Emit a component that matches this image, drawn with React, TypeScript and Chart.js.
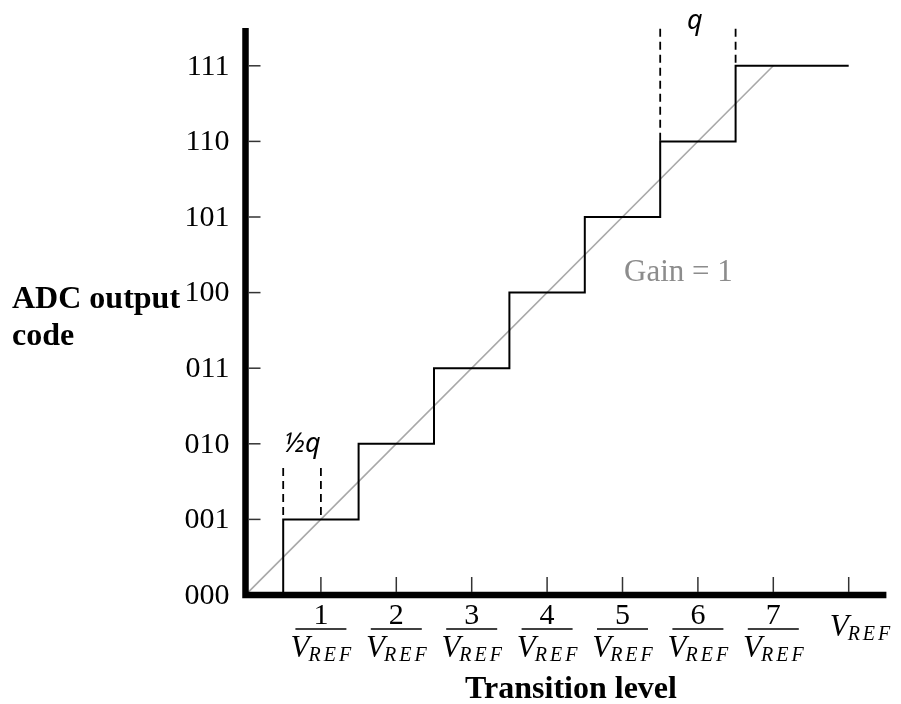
import React, { useEffect, useRef } from "react";
import { Chart, registerables } from "chart.js";

Chart.register(...registerables);

// ---- data ----
const transitionLevels = [0.5, 1.5, 2.5, 3.5, 4.5, 5.5, 6.5, 8];
const outputCodes = [0, 1, 2, 3, 4, 5, 6, 7];
const codeLabels = ["000", "001", "010", "011", "100", "101", "110", "111"];
const gainX = [0, 7];
const gainY = [0, 7];
const xTickValues = [1, 2, 3, 4, 5, 6, 7, 8];
const xTickNumerators = ["1", "2", "3", "4", "5", "6", "7", ""];
const halfQMarkersX = [0.5, 1];
const halfQBottom = [1, 1];
const halfQTop = 1.68;
const qMarkersX = [5.5, 6.5];
const qBottom = [6, 7];
const qTop = 7.49;

const SERIF = '"Liberation Serif", "Times New Roman", serif';

const overlayPlugin = {
  id: "overlay",
  afterDraw(chart: any) {
    const ctx = chart.ctx;
    const xs = chart.scales.x;
    const ys = chart.scales.y;
    const px = (v: number) => xs.getPixelForValue(v);
    const py = (v: number) => ys.getPixelForValue(v);
    ctx.save();

    // axes (thick L)
    ctx.strokeStyle = "#000";
    ctx.lineWidth = 6.5;
    ctx.lineJoin = "miter";
    ctx.lineCap = "butt";
    ctx.beginPath();
    ctx.moveTo(px(0), py(7.5));
    ctx.lineTo(px(0), py(0));
    ctx.lineTo(px(8.5), py(0));
    ctx.stroke();

    // y ticks (inward)
    ctx.strokeStyle = "#333";
    ctx.lineWidth = 1.5;
    outputCodes.forEach((c) => {
      if (c === 0) return;
      ctx.beginPath();
      ctx.moveTo(px(0) + 3, py(c));
      ctx.lineTo(px(0) + 15, py(c));
      ctx.stroke();
    });
    // x ticks (upward)
    xTickValues.forEach((v) => {
      ctx.beginPath();
      ctx.moveTo(px(v), py(0) - 3);
      ctx.lineTo(px(v), py(0) - 18);
      ctx.stroke();
    });

    // y labels
    ctx.fillStyle = "#000";
    ctx.font = `30px ${SERIF}`;
    ctx.textAlign = "right";
    ctx.textBaseline = "middle";
    codeLabels.forEach((l, i) => {
      ctx.fillText(l, px(0) - 16, py(outputCodes[i]) + 1);
    });

    // x labels (fractions)
    const drawVref = (cx: number, base: number, align: string) => {
      ctx.letterSpacing = "0px";
      ctx.font = `italic 31px ${SERIF}`;
      const wV = ctx.measureText("V").width;
      ctx.font = `italic 20px ${SERIF}`;
      ctx.letterSpacing = "3px";
      const wR = ctx.measureText("REF").width;
      const total = wV + wR - 4;
      const left = align === "center" ? cx - total / 2 : cx;
      ctx.textAlign = "left";
      ctx.textBaseline = "alphabetic";
      ctx.letterSpacing = "0px";
      ctx.font = `italic 31px ${SERIF}`;
      ctx.fillText("V", left, base);
      ctx.font = `italic 20px ${SERIF}`;
      ctx.letterSpacing = "3px";
      ctx.fillText("REF", left + wV - 1, base + 4);
      ctx.letterSpacing = "0px";
    };
    xTickValues.forEach((v, i) => {
      const x = px(v);
      const num = xTickNumerators[i];
      if (num) {
        ctx.font = `30px ${SERIF}`;
        ctx.textAlign = "center";
        ctx.textBaseline = "alphabetic";
        ctx.fillText(num, x, 624);
        ctx.strokeStyle = "#000";
        ctx.lineWidth = 1.3;
        ctx.beginPath();
        ctx.moveTo(x - 25.5, 629);
        ctx.lineTo(x + 25.5, 629);
        ctx.stroke();
        drawVref(x, 657, "center");
      } else {
        drawVref(x - 19, 636, "left");
      }
    });

    // axis titles
    ctx.font = `bold 32px ${SERIF}`;
    ctx.textAlign = "left";
    ctx.textBaseline = "middle";
    ctx.fillText("ADC output", 12, 300);
    ctx.fillText("code", 12, 337);
    ctx.textAlign = "center";
    ctx.fillText("Transition level", 571, 690);

    // gain annotation
    ctx.fillStyle = "#8c8c8c";
    ctx.font = `31px ${SERIF}`;
    ctx.textAlign = "left";
    ctx.fillText("Gain = 1", 624, 273);

    // q labels
    ctx.fillStyle = "#000";
    ctx.font = `italic 27px "Noto Sans", sans-serif`;
    ctx.textAlign = "center";
    ctx.textBaseline = "alphabetic";
    ctx.fillText("q", px((qMarkersX[0] + qMarkersX[1]) / 2) - 3, 29);
    ctx.fillText("½q", px((halfQMarkersX[0] + halfQMarkersX[1]) / 2), 452);

    ctx.restore();
  },
};

export default function App() {
  const ref = useRef<HTMLCanvasElement>(null);
  useEffect(() => {
    const stair = transitionLevels.map((x, i) => ({ x, y: outputCodes[i] }));
    const gain = gainX.map((x, i) => ({ x, y: gainY[i] }));
    const dashed = (x: number, top: number, bottom: number) => ({
      data: [
        { x, y: top },
        { x, y: bottom },
      ],
      borderColor: "#000",
      borderWidth: 1.8,
      borderDash: [8, 5],
      pointRadius: 0,
      order: 0,
    });
    const chart = new Chart(ref.current!, {
      type: "line",
      data: {
        datasets: [
          {
            data: stair,
            stepped: "after",
            borderColor: "#000",
            borderWidth: 2,
            pointRadius: 0,
            order: 0,
          } as any,
          {
            data: gain,
            borderColor: "#a8a8a8",
            borderWidth: 1.6,
            pointRadius: 0,
            order: 1,
          },
          ...halfQMarkersX.map((x, i) => dashed(x, halfQTop, halfQBottom[i])),
          ...qMarkersX.map((x, i) => dashed(x, qTop, qBottom[i])),
        ],
      },
      options: {
        animation: false,
        responsive: false,
        devicePixelRatio: 1,
        layout: { padding: { left: 245.5, right: 14.6, top: 28, bottom: 109 } },
        plugins: { legend: { display: false }, tooltip: { enabled: false } },
        scales: {
          x: { type: "linear", min: 0, max: 8.5, display: false },
          y: { type: "linear", min: 0, max: 7.5, display: false },
        },
      },
      plugins: [overlayPlugin],
    });
    return () => chart.destroy();
  }, []);
  return (
    <div
      style={{
        position: "fixed",
        left: 0,
        top: 0,
        width: 901,
        height: 704,
        background: "#fff",
      }}
    >
      <canvas ref={ref} width={901} height={704} />
    </div>
  );
}
